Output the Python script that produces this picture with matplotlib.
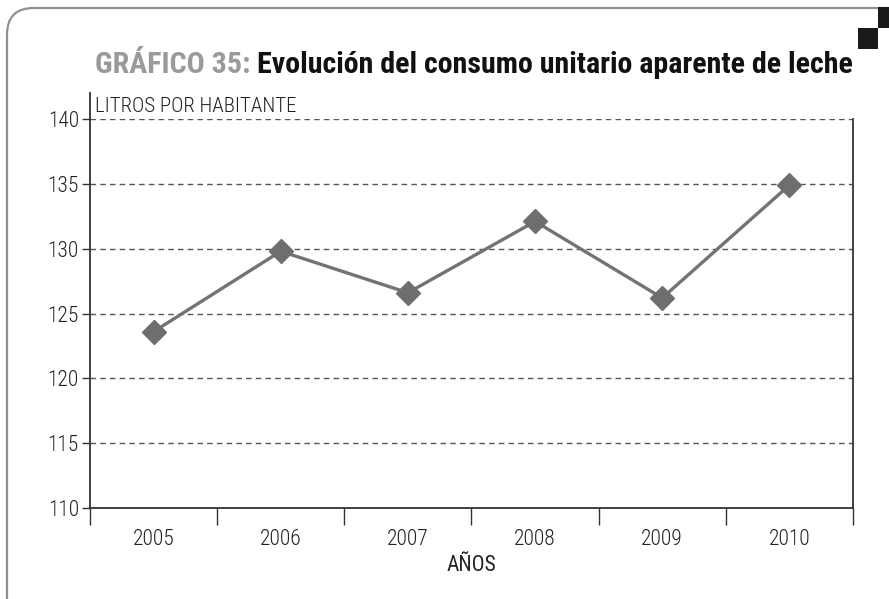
import matplotlib
matplotlib.use("Agg")
import matplotlib.pyplot as plt
from matplotlib import font_manager
from matplotlib.patches import FancyBboxPatch, Rectangle

# data
years = ["2005", "2006", "2007", "2008", "2009", "2010"]
litros = [123.6, 129.8, 126.6, 132.1, 126.2, 134.9]
yticks = [110, 115, 120, 125, 130, 135, 140]

# pick a narrow font if one is installed
names = {f.name for f in font_manager.fontManager.ttflist}
font = "DejaVu Sans"
for cand in ["Roboto Condensed", "Liberation Sans Narrow", "DejaVu Sans Condensed"]:
    if cand in names:
        font = cand
        break
plt.rcParams["font.family"] = [font, "DejaVu Sans"]
plt.rcParams["font.weight"] = "light"

W, H = 889, 599
fig = plt.figure(figsize=(W / 100, H / 100), dpi=100)
fig.patch.set_facecolor("white")

# frame with rounded corner and the two black squares
frame = FancyBboxPatch((7 / W, -40 / H), 950 / W, (H - 8 + 40) / H,
                       boxstyle="round,pad=0,rounding_size=0.03",
                       transform=fig.transFigure, fill=False,
                       edgecolor="#909090", lw=1.6, mutation_aspect=W / H)
fig.add_artist(frame)
fig.add_artist(Rectangle((878 / W, 1 - 28 / H), 12 / W, 21 / H,
                         transform=fig.transFigure, color="#1a1a1a", lw=0))
fig.add_artist(Rectangle((858 / W, 1 - 49 / H), 20 / W, 21 / H,
                         transform=fig.transFigure, color="#1a1a1a", lw=0))

ax = fig.add_axes([90 / W, 1 - 508 / H, (853 - 90) / W, (508 - 119) / H])
x = list(range(len(years)))
ax.plot(x, litros, color="#737373", lw=2.4, marker="D", markersize=12,
        markerfacecolor="#6e6e6e", markeredgecolor="#6e6e6e", zorder=3)

ax.set_xlim(-0.5, len(years) - 0.5)
ax.set_ylim(110, 140)
ax.set_yticks(yticks)
ax.set_yticklabels([str(v) for v in yticks], fontsize=15.5, color="#222222")
ax.grid(axis="y", ls=(0, (4, 3)), color="#555555", lw=1)
ax.set_axisbelow(True)

ax.set_xticks([i - 0.5 for i in range(len(years) + 1)])
ax.set_xticklabels([])
ax.set_xticks(x, minor=True)
ax.set_xticklabels(years, minor=True, fontsize=15.5, color="#222222")
ax.tick_params(axis="x", which="major", direction="out", length=12, width=1, color="#333333")
ax.tick_params(axis="x", which="minor", length=0, pad=15)
ax.tick_params(axis="y", length=6, width=1, color="#333333", pad=2)

ax.spines["top"].set_visible(False)
for s in ["left", "right", "bottom"]:
    ax.spines[s].set_color("#333333")
    ax.spines[s].set_linewidth(1.3)

# left axis line continues up to the unit label
ax.plot([-0.5, -0.5], [140, 142], color="#333333", lw=1.3, clip_on=False)
ax.text(0.006, 1.008, "LITROS POR HABITANTE", transform=ax.transAxes,
        fontsize=15, color="#222222", ha="left", va="bottom")
ax.set_xlabel("AÑOS", fontsize=15.5, color="#222222", labelpad=4)

# title in two colours, sized to span the plot width
fs = 24
base = 1 - 73 / H
t1 = fig.text(95 / W, base, "GRÁFICO 35: ", fontsize=fs, fontweight="bold",
              color="#9a9a9a", ha="left", va="baseline")
t2 = fig.text(0, base, "Evolución del consumo unitario aparente de leche",
              fontsize=fs, fontweight="bold", color="#111111", ha="left", va="baseline")
fig.canvas.draw()
r = fig.canvas.get_renderer()
width = t1.get_window_extent(r).width + t2.get_window_extent(r).width
fs = fs * (855 - 95) / width
t1.set_fontsize(fs)
t2.set_fontsize(fs)
fig.canvas.draw()
bb = t1.get_window_extent(r)
t2.set_x(bb.x1 / W)

fig.savefig("out.png", dpi=100)
